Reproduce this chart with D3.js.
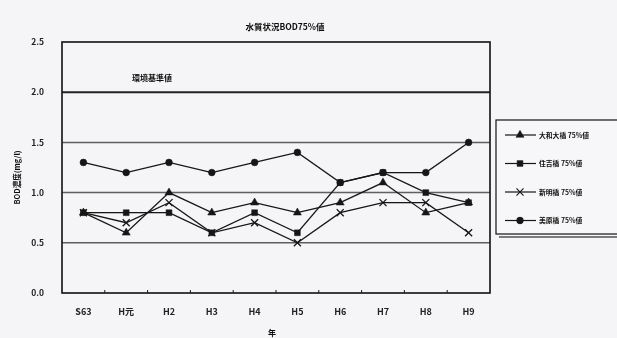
<!DOCTYPE html>
<html>
<head>
<meta charset="utf-8">
<script src="https://cdn.jsdelivr.net/npm/d3@7"></script>
<style>
  html, body { margin: 0; padding: 0; background: #f5f4f6; }
  svg { display: block; }
  text { font-family: "Noto Sans CJK JP", "DejaVu Sans", sans-serif; fill: #111; }
</style>
</head>
<body>
<svg id="chart" width="617" height="338"></svg>
<script>
// Fiscal years (昭和63 – 平成9)
const years = ["S63", "H元", "H2", "H3", "H4", "H5", "H6", "H7", "H8", "H9"];

// BOD 75% values (mg/l) at each monitoring point
const ohashiValues    = [0.8, 0.6, 1.0, 0.8, 0.9, 0.8, 0.9, 1.1, 0.8, 0.9];
const sumiyoshiValues = [0.8, 0.8, 0.8, 0.6, 0.8, 0.6, 1.1, 1.2, 1.0, 0.9];
const shinmeiValues   = [0.8, 0.7, 0.9, 0.6, 0.7, 0.5, 0.8, 0.9, 0.9, 0.6];
const miharaValues    = [1.3, 1.2, 1.3, 1.2, 1.3, 1.4, 1.1, 1.2, 1.2, 1.5];

const seriesNames = ["大和大橋 75%値", "住吉橋 75%値", "新明橋 75%値", "美原橋 75%値"];
const seriesMarkers = ["triangle", "square", "cross", "circle"];

const yTicks = [0.0, 0.5, 1.0, 1.5, 2.0, 2.5];
const standardValue = 2.0;
const standardLabel = "環境基準値";
const chartTitle = "水質状況BOD75%値";
const yTitle = "BOD濃度(mg/l)";
const xTitle = "年";

const series = [ohashiValues, sumiyoshiValues, shinmeiValues, miharaValues].map((vals, i) => ({
  name: seriesNames[i],
  marker: seriesMarkers[i],
  values: vals
}));

const svg = d3.select("#chart");
const ink = "#151515";
const plot = { left: 62, right: 490, top: 42, bottom: 293 };

const x = d3.scaleBand().domain(years).range([plot.left, plot.right]);
const y = d3.scaleLinear().domain([0, 2.5]).range([plot.bottom, plot.top]);
const cx = d => x(d) + x.bandwidth() / 2;

svg.append("defs").append("filter").attr("id", "soft")
  .append("feGaussianBlur").attr("stdDeviation", 0.45);
const root = svg.append("g").attr("filter", "url(#soft)");

// horizontal gridlines
root.append("g").selectAll("line")
  .data(yTicks.filter(t => t > 0 && t < 2.5))
  .join("line")
  .attr("x1", plot.left).attr("x2", plot.right)
  .attr("y1", d => y(d)).attr("y2", d => y(d))
  .attr("stroke", d => d === standardValue ? "#222" : "#5e5e5e")
  .attr("stroke-width", d => d === standardValue ? 2 : 1.5);

// frame
root.append("rect")
  .attr("x", plot.left).attr("y", y(2.5))
  .attr("width", plot.right - plot.left).attr("height", y(0) - y(2.5))
  .attr("fill", "none").attr("stroke", ink).attr("stroke-width", 1.6);

// y axis labels
const yAxis = d3.axisLeft(y).tickValues(yTicks).tickFormat(d3.format(".1f")).tickSize(0).tickPadding(18);
const yg = root.append("g").attr("transform", `translate(${plot.left},0)`).call(yAxis);
yg.select(".domain").remove();
yg.selectAll("text").attr("font-size", 8.5).attr("font-weight", "bold")
  .attr("font-family", "'Liberation Sans', sans-serif").style("fill", "#222");

// x axis: ticks at category boundaries, labels centered
const xAxis = d3.axisBottom(x).tickSize(0).tickPadding(16);
const xg = root.append("g").attr("transform", `translate(0,${plot.bottom})`).call(xAxis);
xg.select(".domain").remove();
xg.selectAll("text").attr("font-size", 9).attr("font-weight", "bold")
  .attr("font-family", "'Noto Sans CJK JP', sans-serif").style("fill", "#222");
root.append("g").selectAll("line")
  .data(years.slice(1))
  .join("line")
  .attr("x1", d => x(d)).attr("x2", d => x(d))
  .attr("y1", plot.bottom).attr("y2", plot.bottom - 3)
  .attr("stroke", ink).attr("stroke-width", 1);

// titles
root.append("text").attr("x", 285).attr("y", 30).attr("text-anchor", "middle")
  .attr("font-size", 8.5).attr("font-weight", "bold").text(chartTitle);
root.append("text").attr("transform", `translate(20,${(y(0) + y(2.5)) / 2 + 10}) rotate(-90)`)
  .attr("text-anchor", "middle").attr("font-size", 7.5).attr("font-weight", "bold").text(yTitle);
root.append("text").attr("x", 272).attr("y", 336).attr("text-anchor", "middle")
  .attr("font-size", 8).attr("font-weight", "bold").text(xTitle);
root.append("text").attr("x", 132).attr("y", y(standardValue) - 11)
  .attr("font-size", 8).attr("font-weight", "bold").text(standardLabel);

// marker shapes
const symbolOf = m => ({
  triangle: d3.symbol().type(d3.symbolTriangle).size(28),
  square: d3.symbol().type(d3.symbolSquare).size(34),
  cross: d3.symbol().type(d3.symbolX).size(34),
  circle: d3.symbol().type(d3.symbolCircle).size(36)
})[m];

const line = d3.line().x((d, i) => cx(years[i])).y(d => y(d));

const sg = root.append("g").selectAll("g").data(series).join("g");
sg.append("path")
  .attr("d", s => line(s.values))
  .attr("fill", "none").attr("stroke", ink).attr("stroke-width", 1.25);
sg.each(function (s) {
  d3.select(this).selectAll("path.pt")
    .data(s.values)
    .join("path")
    .attr("class", "pt")
    .attr("transform", (d, i) => `translate(${cx(years[i])},${y(d)})`)
    .attr("d", symbolOf(s.marker)())
    .attr("fill", s.marker === "cross" ? "none" : ink)
    .attr("stroke", ink)
    .attr("stroke-width", s.marker === "cross" ? 1.3 : 0.5);
});

// legend
const lg = root.append("g");
lg.append("rect").attr("x", 496).attr("y", 120).attr("width", 130).attr("height", 114)
  .attr("fill", "#f7f6f8").attr("stroke", ink).attr("stroke-width", 1.2);
lg.append("line").attr("x1", 499).attr("x2", 620).attr("y1", 237).attr("y2", 237)
  .attr("stroke", "#555").attr("stroke-width", 1.4);
const le = lg.selectAll("g.item").data(series).join("g").attr("class", "item")
  .attr("transform", (d, i) => `translate(0,${135 + i * 28.5})`);
le.append("line").attr("x1", 505).attr("x2", 536).attr("y1", 0).attr("y2", 0)
  .attr("stroke", ink).attr("stroke-width", 1.2);
le.append("path").attr("transform", "translate(520,0)")
  .attr("d", s => symbolOf(s.marker)())
  .attr("fill", s => s.marker === "cross" ? "none" : ink)
  .attr("stroke", ink).attr("stroke-width", s => s.marker === "cross" ? 1.1 : 0.5);
le.append("text").attr("x", 539).attr("y", 2.5).attr("font-size", 6.8).attr("font-weight", "bold")
  .text(s => s.name);
</script>
</body>
</html>
